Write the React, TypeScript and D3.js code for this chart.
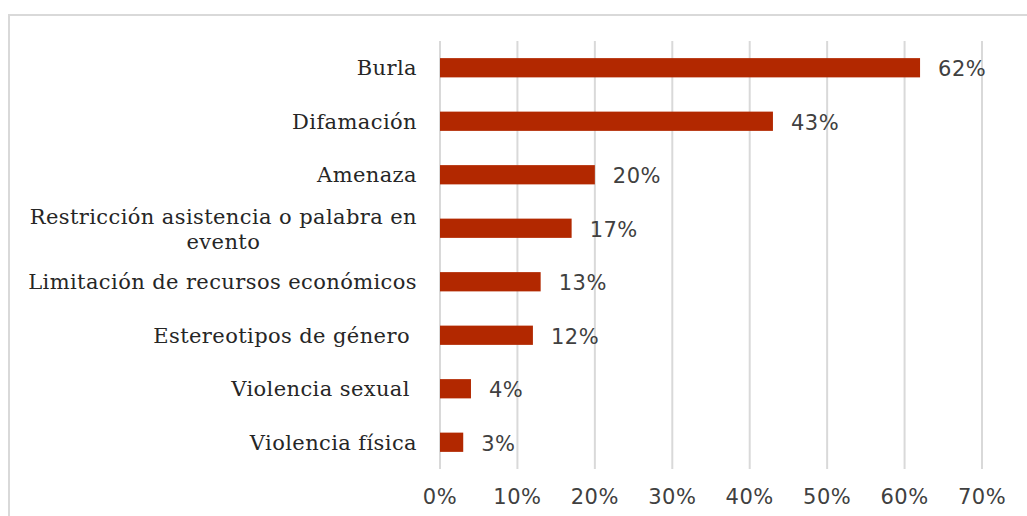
import React, { useEffect, useRef } from 'react';
import * as d3 from 'd3';

// Categories, top to bottom
const categories = [
  'Burla',
  'Difamación',
  'Amenaza',
  'Restricción asistencia o palabra en evento',
  'Limitación de recursos económicos',
  'Estereotipos de género ',
  'Violencia sexual ',
  'Violencia física',
];

// Share of cases (%)
const values = [62, 43, 20, 17, 13, 12, 4, 3];

const ticks = [0, 10, 20, 30, 40, 50, 60, 70];

// wrapped label lines (the long label breaks in two)
const labelLines: Record<string, string[]> = {
  'Restricción asistencia o palabra en evento': ['Restricción asistencia o palabra en', 'evento'],
};

const App = () => {
  const svgRef = useRef<SVGSVGElement>(null);

  useEffect(() => {
    const svg = d3.select(svgRef.current);
    svg.selectAll('*').remove();

    const width = 1027;
    const height = 516;
    const margin = { top: 41, right: 45, bottom: 47, left: 440 };

    const barColor = '#b22800';
    const labelFont = '"DejaVu Serif", "Liberation Serif", serif';
    const numFont = '"DejaVu Sans", "Noto Sans", sans-serif';

    const data = categories.map((c, i) => ({ label: c, value: values[i] }));

    const x = d3.scaleLinear()
      .domain([0, 70])
      .range([margin.left, width - margin.right]);

    const y = d3.scaleBand()
      .domain(categories)
      .range([margin.top, height - margin.bottom])
      .paddingInner(0.64)
      .paddingOuter(0.32);

    // chart border (top + left only visible)
    svg.append('path')
      .attr('d', `M9,${height + 2} V15 H${width + 2}`)
      .attr('fill', 'none')
      .attr('stroke', '#d9d9d9')
      .attr('stroke-width', 2);

    // gridlines
    svg.append('g')
      .selectAll('line')
      .data(ticks)
      .join('line')
      .attr('x1', d => x(d))
      .attr('x2', d => x(d))
      .attr('y1', margin.top)
      .attr('y2', height - margin.bottom)
      .attr('stroke', '#d9d9d9')
      .attr('stroke-width', 2);

    // tick labels
    svg.append('g')
      .selectAll('text')
      .data(ticks)
      .join('text')
      .attr('x', d => x(d))
      .attr('y', 497)
      .attr('dy', '0.35em')
      .attr('text-anchor', 'middle')
      .attr('fill', '#404040')
      .style('font-family', numFont)
      .style('font-size', '21px')
      .style('letter-spacing', '0.5px')
      .text(d => `${d}%`);

    // bars
    svg.append('g')
      .selectAll('rect')
      .data(data)
      .join('rect')
      .attr('x', x(0))
      .attr('y', d => y(d.label)!)
      .attr('width', d => x(d.value) - x(0))
      .attr('height', y.bandwidth())
      .attr('fill', barColor);

    // value labels
    svg.append('g')
      .selectAll('text')
      .data(data)
      .join('text')
      .attr('x', d => x(d.value) + 18)
      .attr('y', d => y(d.label)! + y.bandwidth() / 2 + 1)
      .attr('dy', '0.35em')
      .attr('fill', '#404040')
      .style('font-family', numFont)
      .style('font-size', '21px')
      .style('letter-spacing', '0.5px')
      .text(d => `${d.value}%`);

    // category labels
    const labels = svg.append('g')
      .selectAll('g')
      .data(data)
      .join('g');

    labels.each(function (d) {
      const g = d3.select(this);
      const cy = y(d.label)! + y.bandwidth() / 2;
      const lines = labelLines[d.label];
      const t = g.append('text')
        .attr('fill', '#262626')
        .style('font-family', labelFont)
        .style('font-size', '21px')
        .style('letter-spacing', '0.4px')
        .style('white-space', 'pre');
      if (lines) {
        t.append('tspan').attr('x', 417).attr('y', cy - 12).attr('dy', '0.35em')
          .attr('text-anchor', 'end').text(lines[0]);
        const w = (t.node() as SVGTextElement).getBBox().width;
        t.append('tspan').attr('x', 417 - w / 2).attr('y', cy + 13).attr('dy', '0.35em')
          .attr('text-anchor', 'middle').text(lines[1]);
      } else {
        t.attr('x', 417)
          .attr('y', cy)
          .attr('dy', '0.35em')
          .attr('text-anchor', 'end')
          .text(d.label);
      }
    });
  }, []);

  return (
    <svg
      ref={svgRef}
      width="1027"
      height="516"
      style={{ position: 'absolute', left: 0, top: 0, background: '#fff' }}
    ></svg>
  );
};

export default App;
